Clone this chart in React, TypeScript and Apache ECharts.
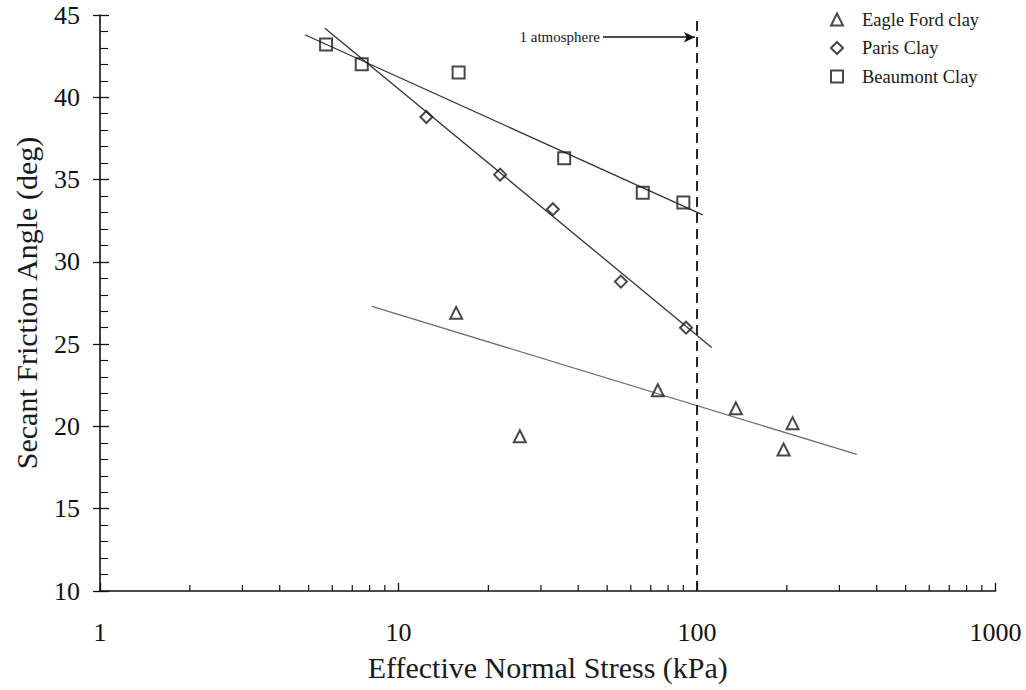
import React, { useEffect, useRef } from "react";
import * as echarts from "echarts";

// ---- data ----
const eagleFordX = [15.6, 25.5, 73.9, 135, 209, 195];
const eagleFordY = [26.9, 19.4, 22.2, 21.1, 20.2, 18.6];
const parisX = [12.4, 21.9, 32.9, 55.6, 91.9];
const parisY = [38.8, 35.3, 33.2, 28.8, 26.0];
const beaumontX = [5.72, 7.53, 15.9, 35.9, 65.8, 90.0];
const beaumontY = [43.2, 42.0, 41.5, 36.3, 34.2, 33.6];

const eagleFordFitX = [8.15, 343];
const eagleFordFitY = [27.3, 18.3];
const parisFitX = [5.67, 112];
const parisFitY = [44.2, 24.8];
const beaumontFitX = [4.86, 104.5];
const beaumontFitY = [43.8, 32.85];

const atmosphereX = 100;
const arrowStartX = 48.4;
const arrowEndX = 98.4;
const arrowY = 43.65;
const atmosphereLabel = "1 atmosphere";

const minorXTicks = [2, 3, 4, 5, 6, 7, 8, 9, 20, 30, 40, 50, 60, 70, 80, 90, 200, 300, 400, 500, 600, 700, 800, 900];

const seriesNames = ["Eagle Ford clay", "Paris Clay", "Beaumont Clay"];

const FONT = "Liberation Serif";
const INK = "#1a1a1a";

const zip = (xs: number[], ys: number[]) => xs.map((x, i) => [x, ys[i]]);

export default function App() {
  const ref = useRef<HTMLDivElement>(null);
  useEffect(() => {
    document.body.style.margin = "0";
    const chart = echarts.init(ref.current!, undefined, { renderer: "svg" });
    const markerStyle = {
      color: "rgba(255,255,255,0)",
      borderColor: INK,
      borderWidth: 2,
    };
    const option: any = {
      animation: false,
      backgroundColor: "#fff",
      grid: { left: 100, right: 30.5, top: 15, bottom: 99, outerBoundsMode: "none" },
      legend: {
        data: seriesNames,
        orient: "vertical",
        left: 825,
        top: 5,
        itemWidth: 12,
        itemHeight: 12,
        itemGap: 9.5,
        itemStyle: { color: "#fff", borderColor: INK, borderWidth: 2 },
        textStyle: { fontFamily: FONT, fontSize: 18.5, color: INK, padding: [0, 0, 0, 14] },
      },
      xAxis: {
        type: "log",
        logBase: 10,
        min: 1,
        max: 1000,
        name: "Effective Normal Stress (kPa)",
        nameLocation: "middle",
        nameGap: 61,
        nameTextStyle: { fontFamily: FONT, fontSize: 30, color: INK },
        axisLine: { onZero: false, lineStyle: { color: "#111", width: 1.6 } },
        axisTick: { show: true, inside: true, length: 8, lineStyle: { color: "#111", width: 1.3 } },
        minorTick: { show: false },
        splitLine: { show: false },
        axisLabel: {
          fontFamily: FONT,
          fontSize: 26,
          color: "#111",
          margin: 28,
          formatter: (v: number) => String(Math.round(v)),
        },
      },
      yAxis: [
        {
          type: "value",
          min: 10,
          max: 45,
          interval: 5,
          name: "Secant Friction Angle (deg)",
          nameLocation: "middle",
          nameGap: 59,
          nameTextStyle: { fontFamily: FONT, fontSize: 30, color: INK },
          axisLine: { show: true, onZero: false, lineStyle: { color: "#111", width: 1.6 } },
          axisTick: { show: true, inside: false, length: 7, lineStyle: { color: "#111", width: 1.3 } },
          splitLine: { show: false },
          axisLabel: { fontFamily: FONT, fontSize: 26, color: "#111", margin: 20 },
        },
        {
          type: "value",
          position: "left",
          offset: 0,
          min: 10,
          max: 45,
          interval: 5,
          axisLine: { show: false, onZero: false },
          axisTick: { show: true, inside: true, length: 9, lineStyle: { color: "#111", width: 1.3 } },
          minorTick: { show: true, splitNumber: 5, length: 8, lineStyle: { color: "#111", width: 1.1 } },
          splitLine: { show: false },
          axisLabel: { show: false },
        },
      ],
      series: [
        {
          name: "Eagle Ford fit",
          type: "line",
          data: zip(eagleFordFitX, eagleFordFitY),
          showSymbol: false,
          lineStyle: { color: "#6f6f6f", width: 1.3 },
          z: 2,
          silent: true,
        },
        {
          name: "Paris fit",
          type: "line",
          data: zip(parisFitX, parisFitY),
          showSymbol: false,
          lineStyle: { color: "#333", width: 1.3 },
          z: 2,
          silent: true,
        },
        {
          name: "Beaumont fit",
          type: "line",
          data: zip(beaumontFitX, beaumontFitY),
          showSymbol: false,
          lineStyle: { color: "#333", width: 1.3 },
          z: 2,
          silent: true,
          markLine: {
            silent: true,
            animation: false,
            symbol: ["none", "none"],
            label: { show: false },
            data: [
              {
                xAxis: atmosphereX,
                lineStyle: { color: "#111", width: 1.8, type: [10, 6] },
              },
              [
                {
                  coord: [arrowStartX, arrowY],
                  symbol: "none",
                  lineStyle: { color: "#111", width: 1.6, type: "solid" },
                  label: {
                    show: true,
                    position: "start",
                    formatter: atmosphereLabel,
                    fontFamily: FONT,
                    fontSize: 15,
                    color: INK,
                    distance: 3,
                  },
                },
                { coord: [arrowEndX, arrowY], symbol: "arrow", symbolSize: [8, 11] },
              ],
            ],
          },
        },
        {
          name: seriesNames[0],
          type: "scatter",
          symbol: "triangle",
          symbolSize: 12,
          data: zip(eagleFordX, eagleFordY),
          itemStyle: markerStyle,
          z: 5,
        },
        {
          name: seriesNames[1],
          type: "scatter",
          symbol: "diamond",
          symbolSize: 12,
          data: zip(parisX, parisY),
          itemStyle: markerStyle,
          z: 5,
        },
        {
          name: seriesNames[2],
          type: "scatter",
          symbol: "rect",
          symbolSize: 12,
          data: zip(beaumontX, beaumontY),
          itemStyle: markerStyle,
          z: 5,
        },
        {
          name: "minor x ticks",
          type: "custom",
          silent: true,
          clip: false,
          z: 3,
          data: minorXTicks.map((v) => [v, 10]),
          renderItem: (_params: any, api: any) => {
            const p = api.coord([api.value(0), api.value(1)]);
            return {
              type: "line",
              shape: { x1: p[0], y1: p[1], x2: p[0], y2: p[1] - 6 },
              style: { stroke: "#111", lineWidth: 1.2 },
            };
          },
        },
      ],
    };
    chart.setOption(option);
    return () => chart.dispose();
  }, []);
  return <div ref={ref} style={{ width: 1026, height: 690 }} />;
}
